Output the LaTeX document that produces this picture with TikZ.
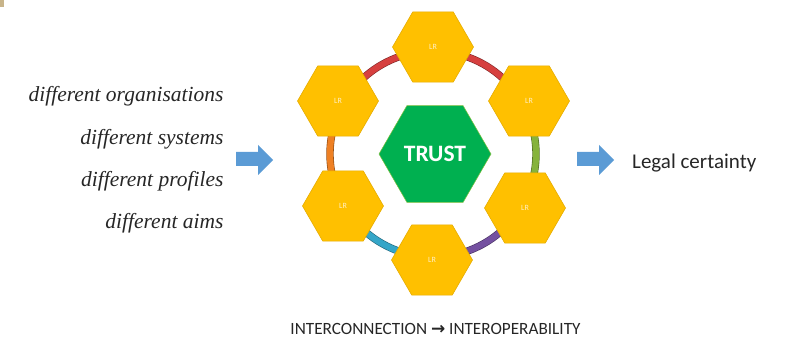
\documentclass[tikz,border=0pt]{standalone}
\usepackage{fontspec}
\setmainfont{Liberation Serif}
\newfontfamily\calibri{Carlito}
\newfontfamily\dejavu{DejaVu Sans}
\usetikzlibrary{shapes.geometric}
\definecolor{gold}{HTML}{FFC000}
\definecolor{golddark}{HTML}{E6AC00}
\definecolor{lrtext}{HTML}{FFF0C8}
\definecolor{trustgreen}{HTML}{00B050}
\definecolor{trustedge}{HTML}{7FBF3F}
\definecolor{arrowblue}{HTML}{5B9BD5}
\definecolor{ringred}{HTML}{D6403F}
\definecolor{ringorange}{HTML}{EE8024}
\definecolor{ringcyan}{HTML}{35A6C8}
\definecolor{ringpurple}{HTML}{7450A0}
\definecolor{ringgreen}{HTML}{86B33C}
\definecolor{cornertan}{HTML}{C8B48A}
\definecolor{textgrey}{HTML}{262626}
\begin{document}
\begin{tikzpicture}[x=1pt,y=-1pt,
  lrhex/.style={regular polygon, regular polygon sides=6, minimum size=81pt,
    inner sep=0pt, outer sep=0pt, fill=gold, draw=golddark, line width=0.6pt,
    text=lrtext, font=\calibri\fontsize{8}{8}\selectfont},
  trusthex/.style={regular polygon, regular polygon sides=6, minimum size=112pt,
    inner sep=0pt, outer sep=0pt, fill=trustgreen, draw=trustedge, line width=0.5pt,
    text=white, font=\calibri\bfseries\fontsize{23.5}{24}\selectfont},
  difftext/.style={anchor=base east, text=textgrey, font=\itshape\fontsize{21.5}{22}\selectfont},
  blockarrow/.style={fill=arrowblue},
  ringseg/.style={line width=6.2pt}
]
\useasboundingbox (0,0) rectangle (788,339);
\fill[cornertan] (0,0) rectangle (3.5,7.5);

% ring
\coordinate (ringc) at (433,154);
\foreach \a/\b/\c in {-30/-150/ringred, -150/-210/ringorange, -210/-270/ringcyan,
                      -270/-330/ringpurple, 30/-30/ringgreen}{
  \draw[line width=7.4pt, draw=\c!60!black] ([shift={(\a:103)}]ringc) arc[start angle=\a, end angle=\b, radius=103];
  \draw[ringseg, draw=\c] ([shift={(\a:103)}]ringc) arc[start angle=\a, end angle=\b, radius=103];
}

% hexagons
\node[lrhex] (top) at (433,47) {LR};
\node[lrhex] (ul) at (338,101) {LR};
\node[lrhex] (ur) at (529,101) {LR};
\node[lrhex] (ll) at (343,206) {LR};
\node[lrhex] (lr) at (525,208) {LR};
\node[lrhex] (bot) at (432,260) {LR};
\node[trusthex] (trust) at (435,154) {TRUST};

% left texts
\node[difftext] (d1) at (227,102) {different organisations};
\node[difftext] (d2) at (227,145) {different systems};
\node[difftext] (d3) at (227,187) {different profiles};
\node[difftext] (d4) at (227,229) {different aims};

% block arrows
\fill[blockarrow] (236,152) -- (258,152) -- (258,145) -- (273,160) -- (258,175) -- (258,166) -- (236,166) -- cycle;
\fill[blockarrow] (577,152) -- (599,152) -- (599,145) -- (614,160) -- (599,175) -- (599,166) -- (577,166) -- cycle;

% right text
\node[anchor=base west, inner sep=0pt, text=textgrey, font=\calibri\fontsize{21}{22}\selectfont] (legal) at (632,169) {Legal certainty};

% bottom text
\node[anchor=base, inner sep=0pt, text=textgrey, font=\calibri\fontsize{17.2}{18}\selectfont] (inter) at (435.5,334.5) {INTERCONNECTION {\dejavu\bfseries\fontsize{17}{18}\selectfont →} INTEROPERABILITY};
\end{tikzpicture}
\end{document}
